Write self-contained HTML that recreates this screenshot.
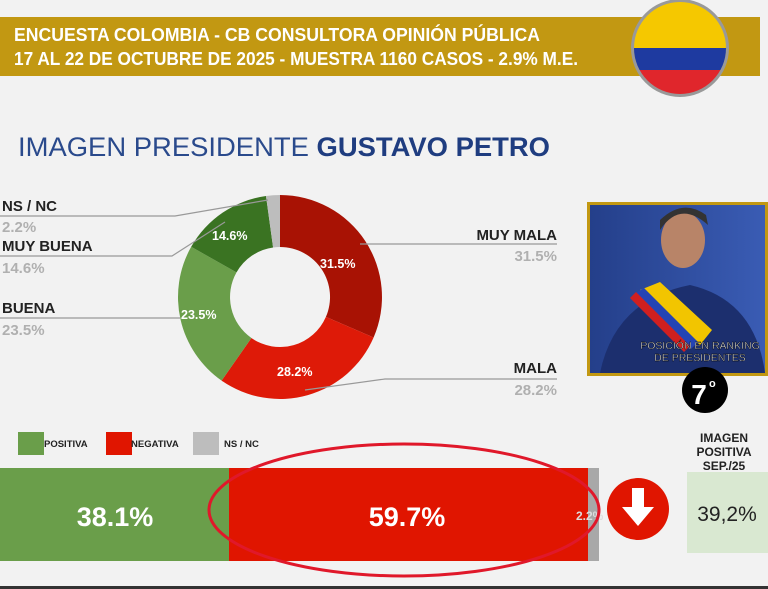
<!DOCTYPE html>
<html><head><meta charset="utf-8"><style>
body{margin:0;width:768px;height:589px;overflow:hidden;background:#f2f2f2;font-family:"Liberation Sans",sans-serif;}
</style></head><body>
<svg width="768" height="589" viewBox="0 0 768 589" xmlns="http://www.w3.org/2000/svg" style="position:absolute;left:0;top:0">
<defs>
<linearGradient id="bg" x1="0" y1="0" x2="1" y2="0"><stop offset="0" stop-color="#243f8a"/><stop offset="1" stop-color="#3a5cb4"/></linearGradient>
<clipPath id="fc"><circle cx="680" cy="48" r="46"/></clipPath>
</defs>
<rect x="0" y="0" width="768" height="589" fill="#f2f2f2"/>
<rect x="0" y="17" width="760" height="59" fill="#c29812"/>
<text x="14" y="41" font-size="18" font-weight="bold" fill="#fff" textLength="526" lengthAdjust="spacingAndGlyphs">ENCUESTA COLOMBIA - CB CONSULTORA OPINIÓN PÚBLICA</text>
<text x="14" y="65" font-size="18" font-weight="bold" fill="#fff" textLength="564" lengthAdjust="spacingAndGlyphs">17 AL 22 DE OCTUBRE DE 2025 - MUESTRA 1160 CASOS - 2.9% M.E.</text>
<circle cx="680" cy="48" r="49" fill="#999"/>
<g clip-path="url(#fc)">
<rect x="630" y="0" width="100" height="48" fill="#f5c800"/>
<rect x="630" y="48" width="100" height="22" fill="#1e3aa0"/>
<rect x="630" y="70" width="100" height="30" fill="#e0262c"/>
</g>
<text x="18" y="156" font-size="27" fill="#2a4a8c" textLength="532" lengthAdjust="spacingAndGlyphs">IMAGEN PRESIDENTE <tspan font-weight="bold" fill="#1f3d80">GUSTAVO PETRO</tspan></text>
<path d="M280 195 A102 102 0 0 1 373.6 337.5 L325.9 316.9 A50 50 0 0 0 280 247 Z" fill="#a81204"/>
<path d="M373.6 337.5 A102 102 0 0 1 221.6 380.6 L251.4 338 A50 50 0 0 0 325.9 316.9 Z" fill="#de1a08"/>
<path d="M221.6 380.6 A102 102 0 0 1 191.2 246.8 L236.5 272.4 A50 50 0 0 0 251.4 338 Z" fill="#6a9e4a"/>
<path d="M191.2 246.8 A102 102 0 0 1 266 196 L273.1 247.5 A50 50 0 0 0 236.5 272.4 Z" fill="#3a7322"/>
<path d="M266 196 A102 102 0 0 1 280 195 L280 247 A50 50 0 0 0 273.1 247.5 Z" fill="#bdbdbd"/>
<g font-size="12.5" font-weight="bold" fill="#fff">
<text x="320" y="268">31.5%</text><text x="277" y="376">28.2%</text><text x="181" y="319">23.5%</text><text x="212" y="240">14.6%</text>
</g>
<g stroke="#999" stroke-width="1.2" fill="none">
<polyline points="0,216 175,216 268,200"/>
<polyline points="0,256 172,256 225,222"/>
<polyline points="0,318 180,318"/>
<polyline points="360,244 557,244"/>
<polyline points="305,390 385,379 557,379"/>
</g>
<g font-size="15" font-weight="bold" fill="#222">
<text x="2" y="211">NS / NC</text><text x="2" y="251">MUY BUENA</text><text x="2" y="313">BUENA</text>
<text x="557" y="240" text-anchor="end">MUY MALA</text><text x="557" y="373" text-anchor="end">MALA</text>
</g>
<g font-size="15" font-weight="bold" fill="#b0b0b0">
<text x="2" y="232">2.2%</text><text x="2" y="273">14.6%</text><text x="2" y="335">23.5%</text>
<text x="557" y="261" text-anchor="end">31.5%</text><text x="557" y="395" text-anchor="end">28.2%</text>
</g>
<rect x="587" y="202" width="181" height="174" fill="#c29812"/>
<rect x="590" y="205" width="175" height="168" fill="url(#bg)"/>
<path d="M600 373 Q615 300 690 285 Q755 300 765 373 Z" fill="#1c2f6e"/>
<path d="M640 290 L700 345 L712 330 L660 282 Z" fill="#f2c500"/>
<path d="M634 294 L690 350 L698 342 L644 288 Z" fill="#2444b4"/>
<path d="M630 298 L684 352 L690 346 L636 292 Z" fill="#d02020"/>
<ellipse cx="683" cy="240" rx="22" ry="28" fill="#b88468"/>
<path d="M660 230 Q680 200 708 225 L706 215 Q683 198 660 220 Z" fill="#333"/>
<text x="700" y="349" text-anchor="middle" font-size="10.5" fill="#fff" stroke="#000" stroke-width="0.4">POSICIÓN EN RANKING</text>
<text x="700" y="361" text-anchor="middle" font-size="10.5" fill="#fff" stroke="#000" stroke-width="0.4">DE PRESIDENTES</text>
<circle cx="705" cy="390" r="23" fill="#000"/>
<text x="699" y="404" text-anchor="middle" font-size="28" font-weight="bold" fill="#fff">7</text>
<text x="709" y="387" font-size="11" font-weight="bold" fill="#fff">o</text>
<g font-size="12" font-weight="bold" fill="#222" text-anchor="middle">
<text x="724" y="442">IMAGEN</text><text x="724" y="456">POSITIVA</text><text x="724" y="470">SEP./25</text>
</g>
<rect x="687" y="472" width="81" height="81" fill="#d9e8d1"/>
<text x="727" y="521" text-anchor="middle" font-size="21" fill="#222">39,2%</text>
<rect x="18" y="432" width="26" height="23" fill="#6a9e4a"/>
<text x="44" y="447" font-size="9.5" font-weight="bold" fill="#222">POSITIVA</text>
<rect x="106" y="432" width="26" height="23" fill="#e01500"/>
<text x="131" y="447" font-size="9.5" font-weight="bold" fill="#222">NEGATIVA</text>
<rect x="193" y="432" width="26" height="23" fill="#bdbdbd"/>
<text x="224" y="447" font-size="9.5" font-weight="bold" fill="#222">NS / NC</text>
<rect x="0" y="468" width="229" height="93" fill="#6a9e4a"/>
<rect x="229" y="468" width="359" height="93" fill="#e01500"/>
<rect x="588" y="468" width="11" height="93" fill="#a8a8a8"/>
<text x="115" y="526" text-anchor="middle" font-size="27" font-weight="bold" fill="#fff">38.1%</text>
<text x="407" y="526" text-anchor="middle" font-size="27" font-weight="bold" fill="#fff">59.7%</text>
<text x="576" y="520" font-size="12" font-weight="bold" fill="#ddd">2.2%</text>
<ellipse cx="404" cy="510" rx="195" ry="66" fill="none" stroke="#e0182a" stroke-width="3"/>
<circle cx="638" cy="509" r="31" fill="#e01500"/>
<path d="M632 488 L644 488 L644 507 L654 507 L638 526 L622 507 L632 507 Z" fill="#fff"/>
<rect x="0" y="586" width="768" height="3" fill="#333"/>
</svg>
</body></html>
